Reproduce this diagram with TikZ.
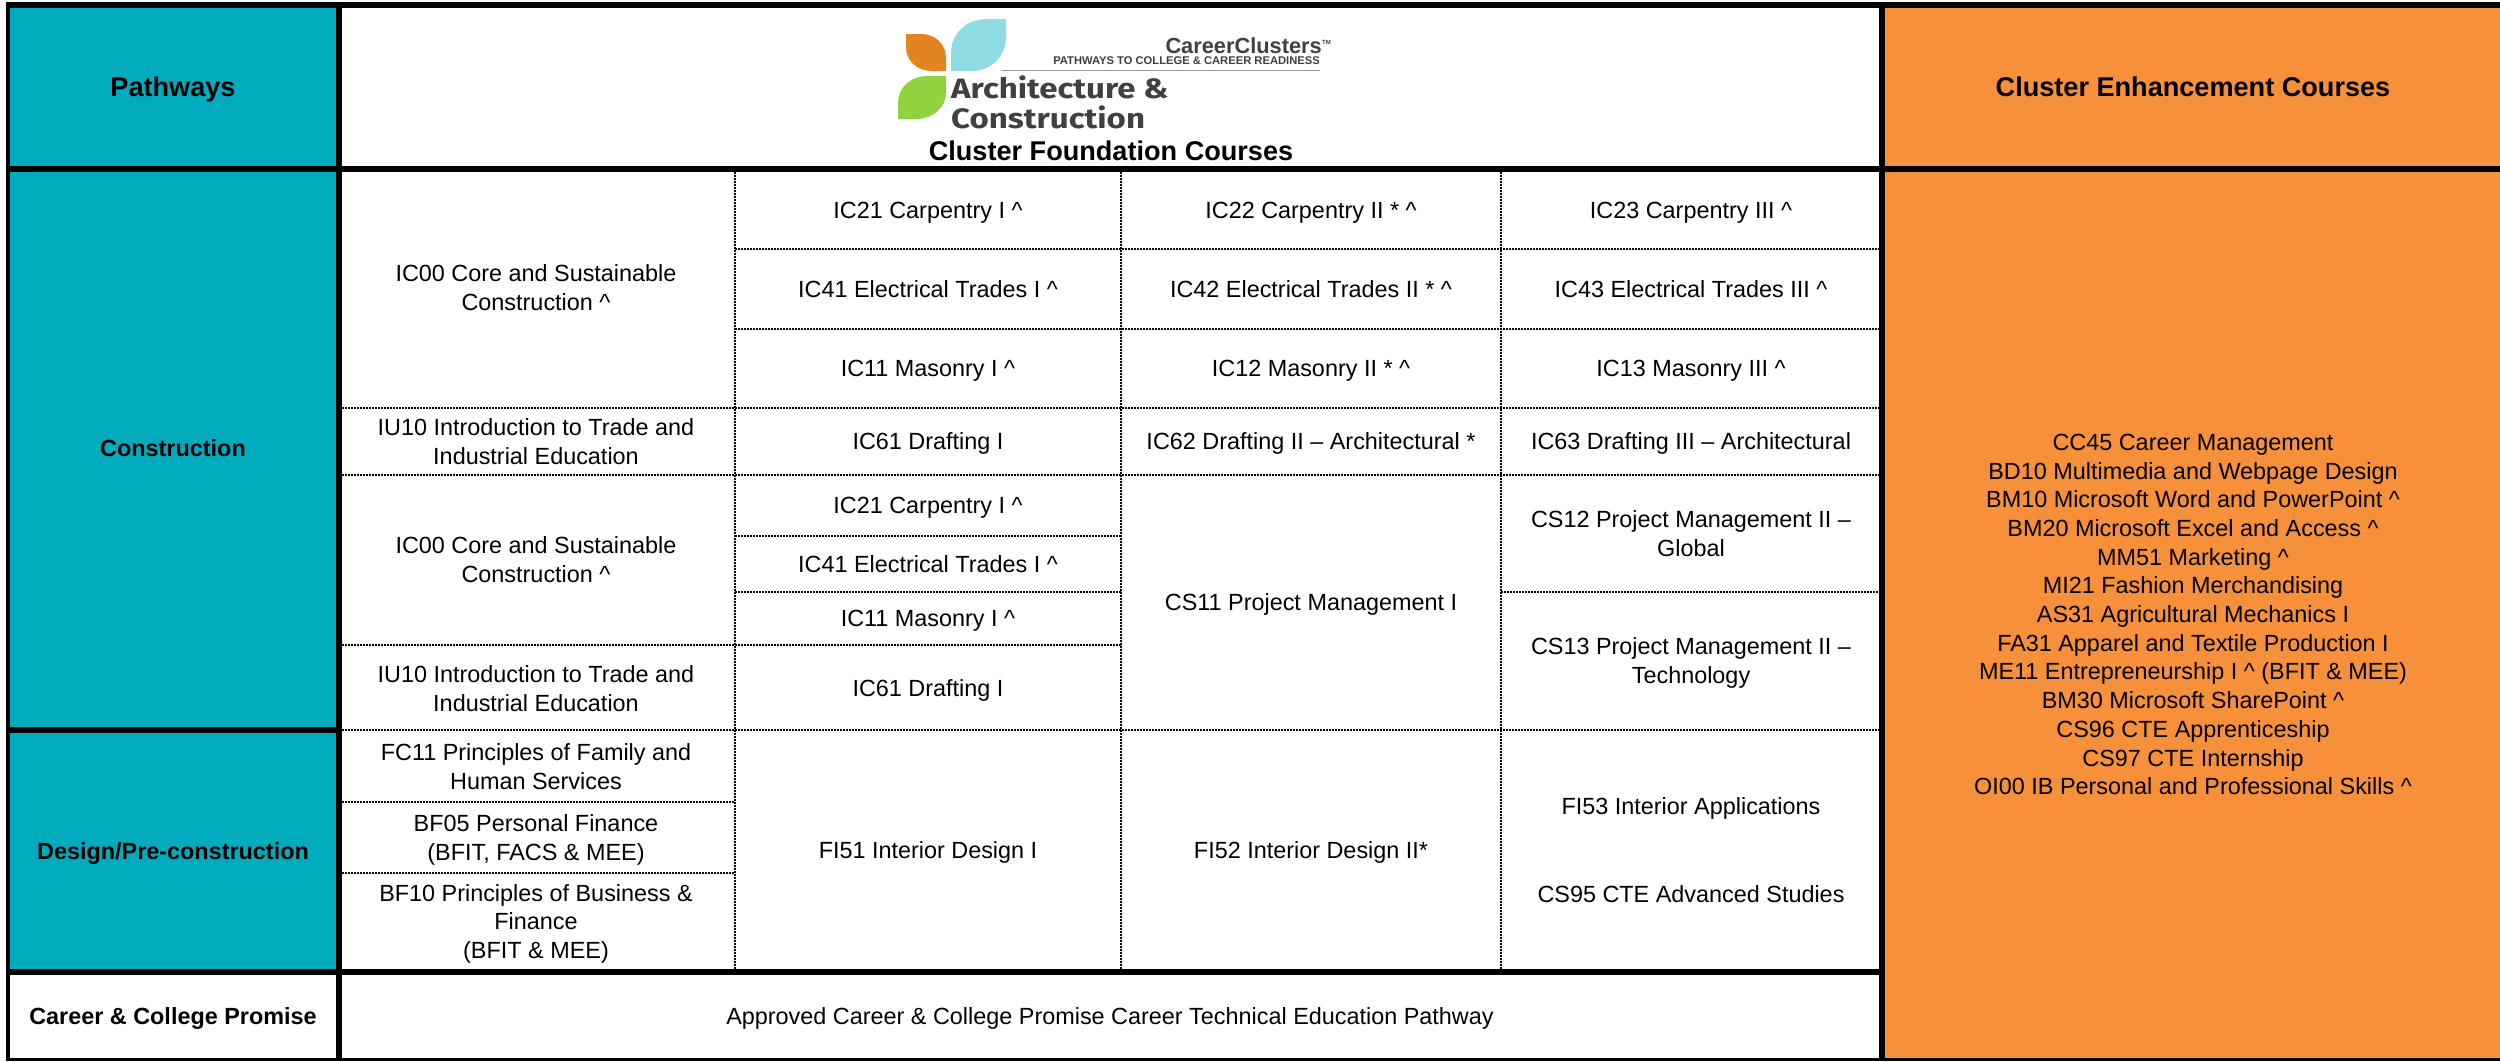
\documentclass[tikz,border=0pt]{standalone}
\usepackage{fontspec}
\setmainfont{Liberation Sans}
\newfontfamily\logofont{Fira Sans}
\definecolor{tealfill}{RGB}{0,171,189}
\definecolor{orangefill}{RGB}{247,144,58}
\definecolor{leaforange}{RGB}{226,133,32}
\definecolor{leafcyan}{RGB}{143,221,228}
\definecolor{leafgreen}{RGB}{144,210,64}
\definecolor{logogray}{RGB}{64,64,66}
\newcommand{\lnstrut}{\rule[-5.9pt]{0pt}{22.8pt}}
\tikzset{
  cell/.style={inner sep=0pt,align=center,text=black,yshift=-3.3pt,
    font=\fontsize{23.4}{28.7}\selectfont,
    execute at begin node=\lnstrut,execute at end node=\lnstrut},
  boldcell/.style={cell,font=\fontsize{23.4}{28.7}\selectfont\bfseries},
  headcell/.style={cell,font=\fontsize{27.1}{32}\selectfont\bfseries},
  thick rule/.style={line width=6pt,black},
  dotrule/.style={line width=2.4pt,black,dash pattern=on 1.5pt off 1.5pt},
  logotext/.style={inner sep=0pt,text=logogray,anchor=base west,xscale=1.18,transform shape}
}
\begin{document}
\begin{tikzpicture}[x=1pt,y=-1pt]
\useasboundingbox (0,0) rectangle (2500,1061);
% fills
\fill[white] (0,0) rectangle (2500,1061);
\fill[tealfill] (8,4) rectangle (339,972);
\fill[white] (8,972) rectangle (339,1061);
\fill[orangefill] (1882,4) rectangle (2500,1061);
% dotted rules
\foreach \yy in {249,329}{\draw[dotrule] (735,\yy) -- (1879,\yy);}
\foreach \yy in {408,475,730}{\draw[dotrule] (342,\yy) -- (1879,\yy);}
\foreach \yy in {536,592}{\draw[dotrule] (735,\yy) -- (1121,\yy);}
\draw[dotrule] (342,645) -- (1121,645);
\draw[dotrule] (1501,592) -- (1879,592);
\foreach \yy in {802,873}{\draw[dotrule] (342,\yy) -- (735,\yy);}
\foreach \xx in {735,1121,1501}{\draw[dotrule,line width=2.8pt] (\xx,172) -- (\xx,969);}
% thick rules
\draw[thick rule] (6,4.5) -- (2500,4.5);
\draw[thick rule] (6,169) -- (2500,169);
\draw[thick rule] (6,730) -- (339,730);
\draw[thick rule] (6,972) -- (1885,972);
\draw[line width=3pt,black] (6,1059.5) -- (2500,1059.5);
\draw[line width=4pt,black] (8,2) -- (8,1061);
\draw[thick rule] (339,2) -- (339,1061);
\draw[thick rule] (1882,2) -- (1882,1061);
% logo
\fill[leaforange] (906,34) -- (921,34) .. controls (936,34) and (946,45) .. (946,58) -- (946,71) -- (932,71) .. controls (917,71) and (906,61) .. (906,47) -- cycle;
\fill[leafcyan] (951,71) -- (951,53) .. controls (951,33) and (967,19) .. (987,19) -- (1006,19) -- (1006,36) .. controls (1006,56) and (992,71) .. (971,71) -- cycle;
\fill[leafgreen] (946,76) -- (946,93) .. controls (946,108) and (932,119) .. (917,119) -- (898,119) -- (898,103) .. controls (898,88) and (910,76) .. (928,76) -- cycle;
\draw[line width=1pt,black!40] (1002,70.5) -- (1320,70.5);
\node[logotext,font=\logofont\fontsize{28}{30}\selectfont\bfseries] (logoA) at (951,98) {Architecture \&};
\node[logotext,font=\logofont\fontsize{28}{30}\selectfont\bfseries] (logoB) at (951,128) {Construction};
\node[inner sep=0pt,text=logogray,anchor=base east,font=\fontsize{21.8}{24}\selectfont\bfseries] (logoC) at (1322,53) {CareerClusters};
\node[inner sep=0pt,text=logogray,anchor=base west,font=\fontsize{6}{7}\selectfont\bfseries] (logoTM) at (1322,44) {TM};
\node[inner sep=0pt,text=logogray,anchor=base east,font=\fontsize{11.2}{13}\selectfont\bfseries] (logoD) at (1320,64.5) {PATHWAYS TO COLLEGE \& CAREER READINESS};
% headers
\node[headcell] (hPath) at (173,86) {Pathways};
\node[headcell] (hFound) at (1111,150) {Cluster Foundation Courses};
\node[headcell] (hEnh) at (2193,86) {Cluster Enhancement Courses};
% pathways
\node[boldcell] (pCon) at (173,448) {Construction};
\node[boldcell] (pDes) at (173,851) {Design/Pre-construction};
\node[boldcell] (pCCP) at (173,1016) {Career \& College Promise};
% column 1
\node[cell] (a1) at (536,287) {IC00 Core and Sustainable\\Construction \^{}};
\node[cell] (a2) at (536,441) {IU10 Introduction to Trade and\\Industrial Education};
\node[cell] (a3) at (536,559) {IC00 Core and Sustainable\\Construction \^{}};
\node[cell] (a4) at (536,688) {IU10 Introduction to Trade and\\Industrial Education};
\node[cell] (a5) at (536,766) {FC11 Principles of Family and\\Human Services};
\node[cell] (a6) at (536,837) {BF05 Personal Finance\\(BFIT, FACS \& MEE)};
\node[cell] (a7) at (536,921) {BF10 Principles of Business \&\\Finance\\(BFIT \& MEE)};
% column 2
\node[cell] (b1) at (928,210) {IC21 Carpentry I \^{}};
\node[cell] (b2) at (928,289) {IC41 Electrical Trades I \^{}};
\node[cell] (b3) at (928,368) {IC11 Masonry I \^{}};
\node[cell] (b4) at (928,441) {IC61 Drafting I};
\node[cell] (b5) at (928,505) {IC21 Carpentry I \^{}};
\node[cell] (b6) at (928,564) {IC41 Electrical Trades I \^{}};
\node[cell] (b7) at (928,618) {IC11 Masonry I \^{}};
\node[cell] (b8) at (928,688) {IC61 Drafting I};
\node[cell] (b9) at (928,850) {FI51 Interior Design I};
% column 3
\node[cell] (c1) at (1311,210) {IC22 Carpentry II * \^{}};
\node[cell] (c2) at (1311,289) {IC42 Electrical Trades II * \^{}};
\node[cell] (c3) at (1311,368) {IC12 Masonry II * \^{}};
\node[cell] (c4) at (1311,441) {IC62 Drafting II -- Architectural *};
\node[cell] (c5) at (1311,602) {CS11 Project Management I};
\node[cell] (c6) at (1311,850) {FI52 Interior Design II*};
% column 4
\node[cell] (d1) at (1691,210) {IC23 Carpentry III \^{}};
\node[cell] (d2) at (1691,289) {IC43 Electrical Trades III \^{}};
\node[cell] (d3) at (1691,368) {IC13 Masonry III \^{}};
\node[cell] (d4) at (1691,441) {IC63 Drafting III -- Architectural};
\node[cell] (d5) at (1691,533) {CS12 Project Management II --\\Global};
\node[cell] (d6) at (1691,660) {CS13 Project Management II --\\Technology};
\node[cell] (d7) at (1691,806) {FI53 Interior Applications};
\node[cell] (d8) at (1691,894) {CS95 CTE Advanced Studies};
% bottom + enhancement list
\node[cell] (ccp) at (1110,1016) {Approved Career \& College Promise Career Technical Education Pathway};
\node[cell] (enh) at (2193,614) {CC45 Career Management\\BD10 Multimedia and Webpage Design\\BM10 Microsoft Word and PowerPoint \^{}\\BM20 Microsoft Excel and Access \^{}\\MM51 Marketing \^{}\\MI21 Fashion Merchandising\\AS31 Agricultural Mechanics I\\FA31 Apparel and Textile Production I\\ME11 Entrepreneurship I \^{} (BFIT \& MEE)\\BM30 Microsoft SharePoint \^{}\\CS96 CTE Apprenticeship\\CS97 CTE Internship\\OI00 IB Personal and Professional Skills \^{}};
\end{tikzpicture}
\end{document}
